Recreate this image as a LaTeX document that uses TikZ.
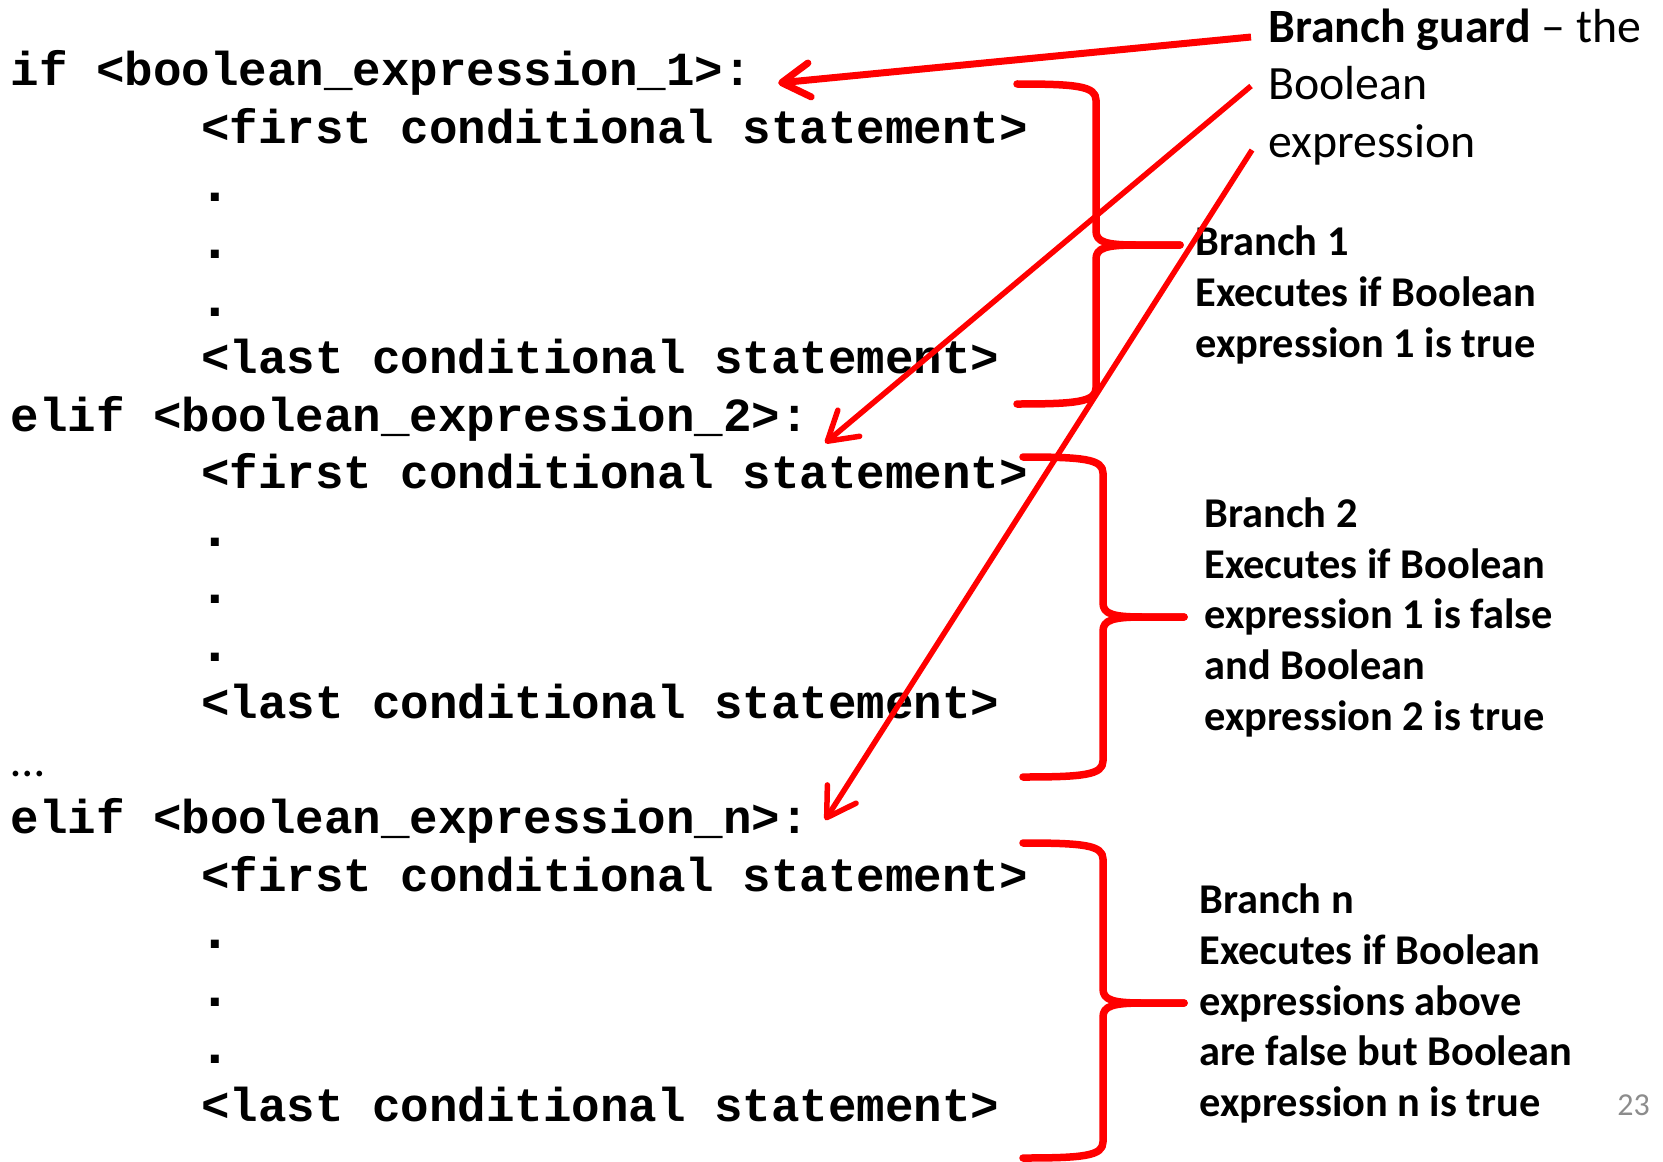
\documentclass[tikz,border=0pt]{standalone}
\usepackage{fontspec}
\setmainfont{Carlito}
\newfontfamily\codefont{Liberation Mono}
\usepackage{xcolor}
\usepackage{tikz}
\usetikzlibrary{calc,arrows.meta}
\definecolor{pagegray}{HTML}{8C8C8C}

\tikzset{
  code/.style={font=\codefont\bfseries\fontsize{23.75}{28.75}\selectfont,inner sep=0,anchor=base west},
  elide/.style={font=\fontsize{23.75}{28.75}\selectfont,inner sep=0,anchor=base west},
  note/.style={font=\bfseries\fontsize{21.2}{25.4}\selectfont,inner sep=0,anchor=base west,align=left},
  guardtext/.style={font=\fontsize{23.9}{28.75}\selectfont,inner sep=0,anchor=base west,align=left},
  pagenum/.style={font=\fontsize{16}{18}\selectfont,text=pagegray,inner sep=0,anchor=base west},
  brace/.style={draw=red,line width=3.75pt,line cap=round,line join=round},
  pointer/.style={draw=red,line width=2.75pt,-{Straight Barb[length=14pt,width=17pt,round]}}
}

\newcommand{\drawDots}[2]{% name, baseline of first dot
  \node[code,font=\codefont\bfseries\fontsize{28}{28}\selectfont] (#1a) at (198.5,#2) {.};
  \node[code,font=\codefont\bfseries\fontsize{28}{28}\selectfont] (#1b) at (198.5,#2+57.5) {.};
  \node[code,font=\codefont\bfseries\fontsize{28}{28}\selectfont] (#1c) at (198.5,#2+115) {.};
}
\newcommand{\drawBrace}[6]{% ends x, spine x, top y, bottom y, tip x, tip y
  \draw[brace] (#1,#3) .. controls (#2-20,#3) and (#2,#3+2) .. (#2,#3+16)
    -- (#2,#6-14) .. controls (#2,#6-3) and (#2+10,#6) .. (#2+40,#6) -- (#5,#6);
  \draw[brace] (#5,#6) -- (#2+40,#6) .. controls (#2+10,#6) and (#2,#6+3) .. (#2,#6+14)
    -- (#2,#4-16) .. controls (#2,#4-2) and (#2-20,#4) .. (#1,#4);
}

\begin{document}
\begin{tikzpicture}[x=0.5pt,y=-0.5pt]
\useasboundingbox (0,0) rectangle (1663,1161);

% First branch
\node[code] (if1) at (10.25,86) {if <boolean\_expression\_1>:};
\node[code] (first1) at (200.75,143.5) {<first conditional statement>};
\drawDots{dotsA}{201}
\node[code] (last1) at (200.75,373.5) {<last conditional statement>};

% Second branch
\node[code] (elif2) at (10.25,431) {elif <boolean\_expression\_2>:};
\node[code] (first2) at (200.75,488.5) {<first conditional statement>};
\drawDots{dotsB}{546}
\node[code] (last2) at (200.75,718.5) {<last conditional statement>};

% Branches left out
\node[elide] (more) at (11,776) {…};

% Last branch
\node[code] (elifn) at (10.25,833.5) {elif <boolean\_expression\_n>:};
\node[code] (firstn) at (200.75,891) {<first conditional statement>};
\drawDots{dotsN}{948.5}
\node[code] (lastn) at (200.75,1121) {<last conditional statement>};

% Braces round each branch body
\drawBrace{1017}{1096}{84}{404}{1180}{245}
\drawBrace{1023}{1103}{457}{777}{1184}{617}
\drawBrace{1023}{1103}{843}{1158}{1184}{1003}

% Notes (placed by their last line)
\node[guardtext] (guard) at (1268,157) {{\bfseries Branch guard} – the\\Boolean\\expression};
\node[note] (branch1) at (1195,357) {Branch 1\\Executes if Boolean\\expression 1 is true};
\node[note] (branch2) at (1204,730.5) {Branch 2\\Executes if Boolean\\expression 1 is false\\and Boolean\\expression 2 is true};
\node[note] (branchn) at (1199,1116.7) {Branch n\\Executes if Boolean\\expressions above\\are false but Boolean\\expression n is true};
\node[pagenum] (page) at (1617,1115) {23};

% Pointers from the guard note
\coordinate (g1) at (1251,37);
\coordinate (g2) at (1251,86);
\coordinate (g3) at (1252,150);
\draw[pointer,line width=3.5pt] (g1) -- ($(if1.base east)+(26,-3)$);
\draw[pointer] (g2) -- ($(elif2.base east)+(16,12)$);
\draw[pointer] (g3) -- ($(elifn.base east)+(16,-13.5)$);

\end{tikzpicture}
\end{document}
